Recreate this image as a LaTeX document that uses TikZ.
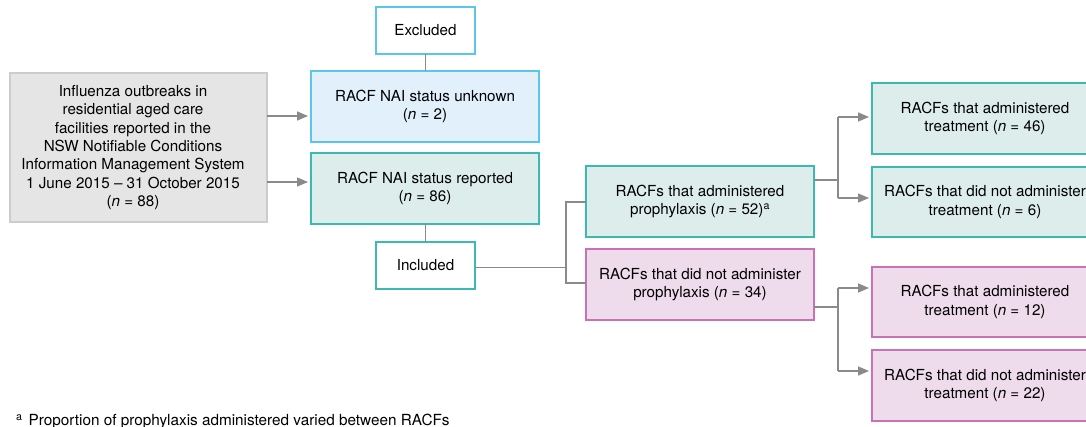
\documentclass[tikz,border=0pt]{standalone}
\usepackage{fontspec}
\setmainfont{TeX Gyre Heros}
\usetikzlibrary{arrows.meta,calc}
\definecolor{grayfill}{HTML}{E5E5E5}
\definecolor{grayline}{HTML}{CCCCCC}
\definecolor{bluefill}{HTML}{E1F0FB}
\definecolor{blueline}{HTML}{5BC5EC}
\definecolor{tealfill}{HTML}{DCEDEC}
\definecolor{tealline}{HTML}{3CB9B1}
\definecolor{pinkfill}{HTML}{EEDBEB}
\definecolor{pinkline}{HTML}{C870B8}
\definecolor{connline}{HTML}{8A8A8A}
\tikzset{
  box/.style={draw, line width=1.3pt, inner sep=0pt, outer sep=0pt, align=center,
    font=\fontsize{15.2}{18.8}\selectfont},
  graybox/.style={box, draw=grayline, fill=grayfill},
  bluebox/.style={box, draw=blueline, fill=bluefill},
  tealbox/.style={box, draw=tealline, fill=tealfill},
  pinkbox/.style={box, draw=pinkline, fill=pinkfill},
  whitebluebox/.style={box, draw=blueline, fill=white},
  whitetealbox/.style={box, draw=tealline, fill=white},
  conn/.style={draw=connline, line width=1.3pt},
  arr/.style={conn, -{Triangle[length=11pt,width=9pt]}, shorten >=3pt},
  wh/.style 2 args={minimum width=#1pt, minimum height=#2pt}
}
\begin{document}
\begin{tikzpicture}[x=1pt,y=-1pt]
\useasboundingbox (0,0) rectangle (1086,427);
\clip (0,0) rectangle (1086,427);

\node[graybox, wh={257}{149}] (src) at (138.5,147.5) {};
\node[align=center, font=\fontsize{15.2}{18.4}\selectfont, inner sep=0pt] (srct) at (133,147.5)
  {Influenza outbreaks in\\residential aged care\\facilities reported in the\\NSW Notifiable Conditions\\Information Management System\\1 June 2015 -- 31 October 2015\\(\textit{n} = 88)};

\node[whitebluebox, wh={99}{47}] (exc) at (425.5,30.5) {Excluded};
\node[bluebox, wh={228}{71}] (unk) at (425,106.5) {RACF NAI status unknown\\(\textit{n} = 2)};
\node[tealbox, wh={228}{71}] (rep) at (425,188.5) {RACF NAI status reported\\(\textit{n} = 86)};
\node[whitetealbox, wh={99}{47}] (inc) at (425.5,265.5) {Included};

\node[tealbox, wh={228}{71}] (py) at (700,201.5) {RACFs that administered\\prophylaxis (\textit{n} = 52)\textsuperscript{a}};
\node[pinkbox, wh={228}{71}] (pn) at (700,284.5) {RACFs that did not administer\\prophylaxis (\textit{n} = 34)};

\node[tealbox, wh={226}{71}] (t46) at (985,118.5) {RACFs that administered\\treatment (\textit{n} = 46)};
\node[tealbox, wh={226}{70}] (t6) at (985,202) {RACFs that did not administer\\treatment (\textit{n} = 6)};
\node[pinkbox, wh={226}{70}] (t12) at (985,302) {RACFs that administered\\treatment (\textit{n} = 12)};
\node[pinkbox, wh={226}{71}] (t22) at (985,385.5) {RACFs that did not administer\\treatment (\textit{n} = 22)};

% source arrows
\coordinate (sa1) at (267,116);
\coordinate (sa2) at (267,182);
\draw[arr] (sa1) -- (sa1 -| unk.west);
\draw[arr] (sa2) -- (sa2 -| rep.west);

% vertical links
\draw[conn] (exc.south) -- (exc.south |- unk.north);
\draw[conn] (rep.south -| inc.north) -- (inc.north);

% included to prophylaxis split
\coordinate (jl) at (566,267.5);
\coordinate (jlt) at (566,202);
\coordinate (jlb) at (566,283);
\draw[conn] (inc.east |- jl) -- (jl);
\draw[conn] (jlt -| py.west) -- (jlt) -- (jlb) -- (jlb -| pn.west);

% prophylaxis yes split
\coordinate (jy) at (838,180);
\coordinate (jy1) at (838,117);
\coordinate (jy2) at (838,198);
\draw[conn] (py.east |- jy) -- (jy);
\draw[conn] (jy1) -- (jy2);
\draw[arr] (jy1) -- (jy1 -| t46.west);
\draw[arr] (jy2) -- (jy2 -| t6.west);

% prophylaxis no split
\coordinate (jn) at (838,307);
\coordinate (jn1) at (838,288);
\coordinate (jn2) at (838,371);
\draw[conn] (pn.east |- jn) -- (jn);
\draw[conn] (jn1) -- (jn2);
\draw[arr] (jn1) -- (jn1 -| t12.west);
\draw[arr] (jn2) -- (jn2 -| t22.west);

% footnote
\node[anchor=base west, inner sep=0pt, font=\fontsize{15.3}{18}\selectfont] (fn) at (16,425.5)
  {\textsuperscript{a}\hspace{6pt}Proportion of prophylaxis administered varied between RACFs};
\end{tikzpicture}
\end{document}
